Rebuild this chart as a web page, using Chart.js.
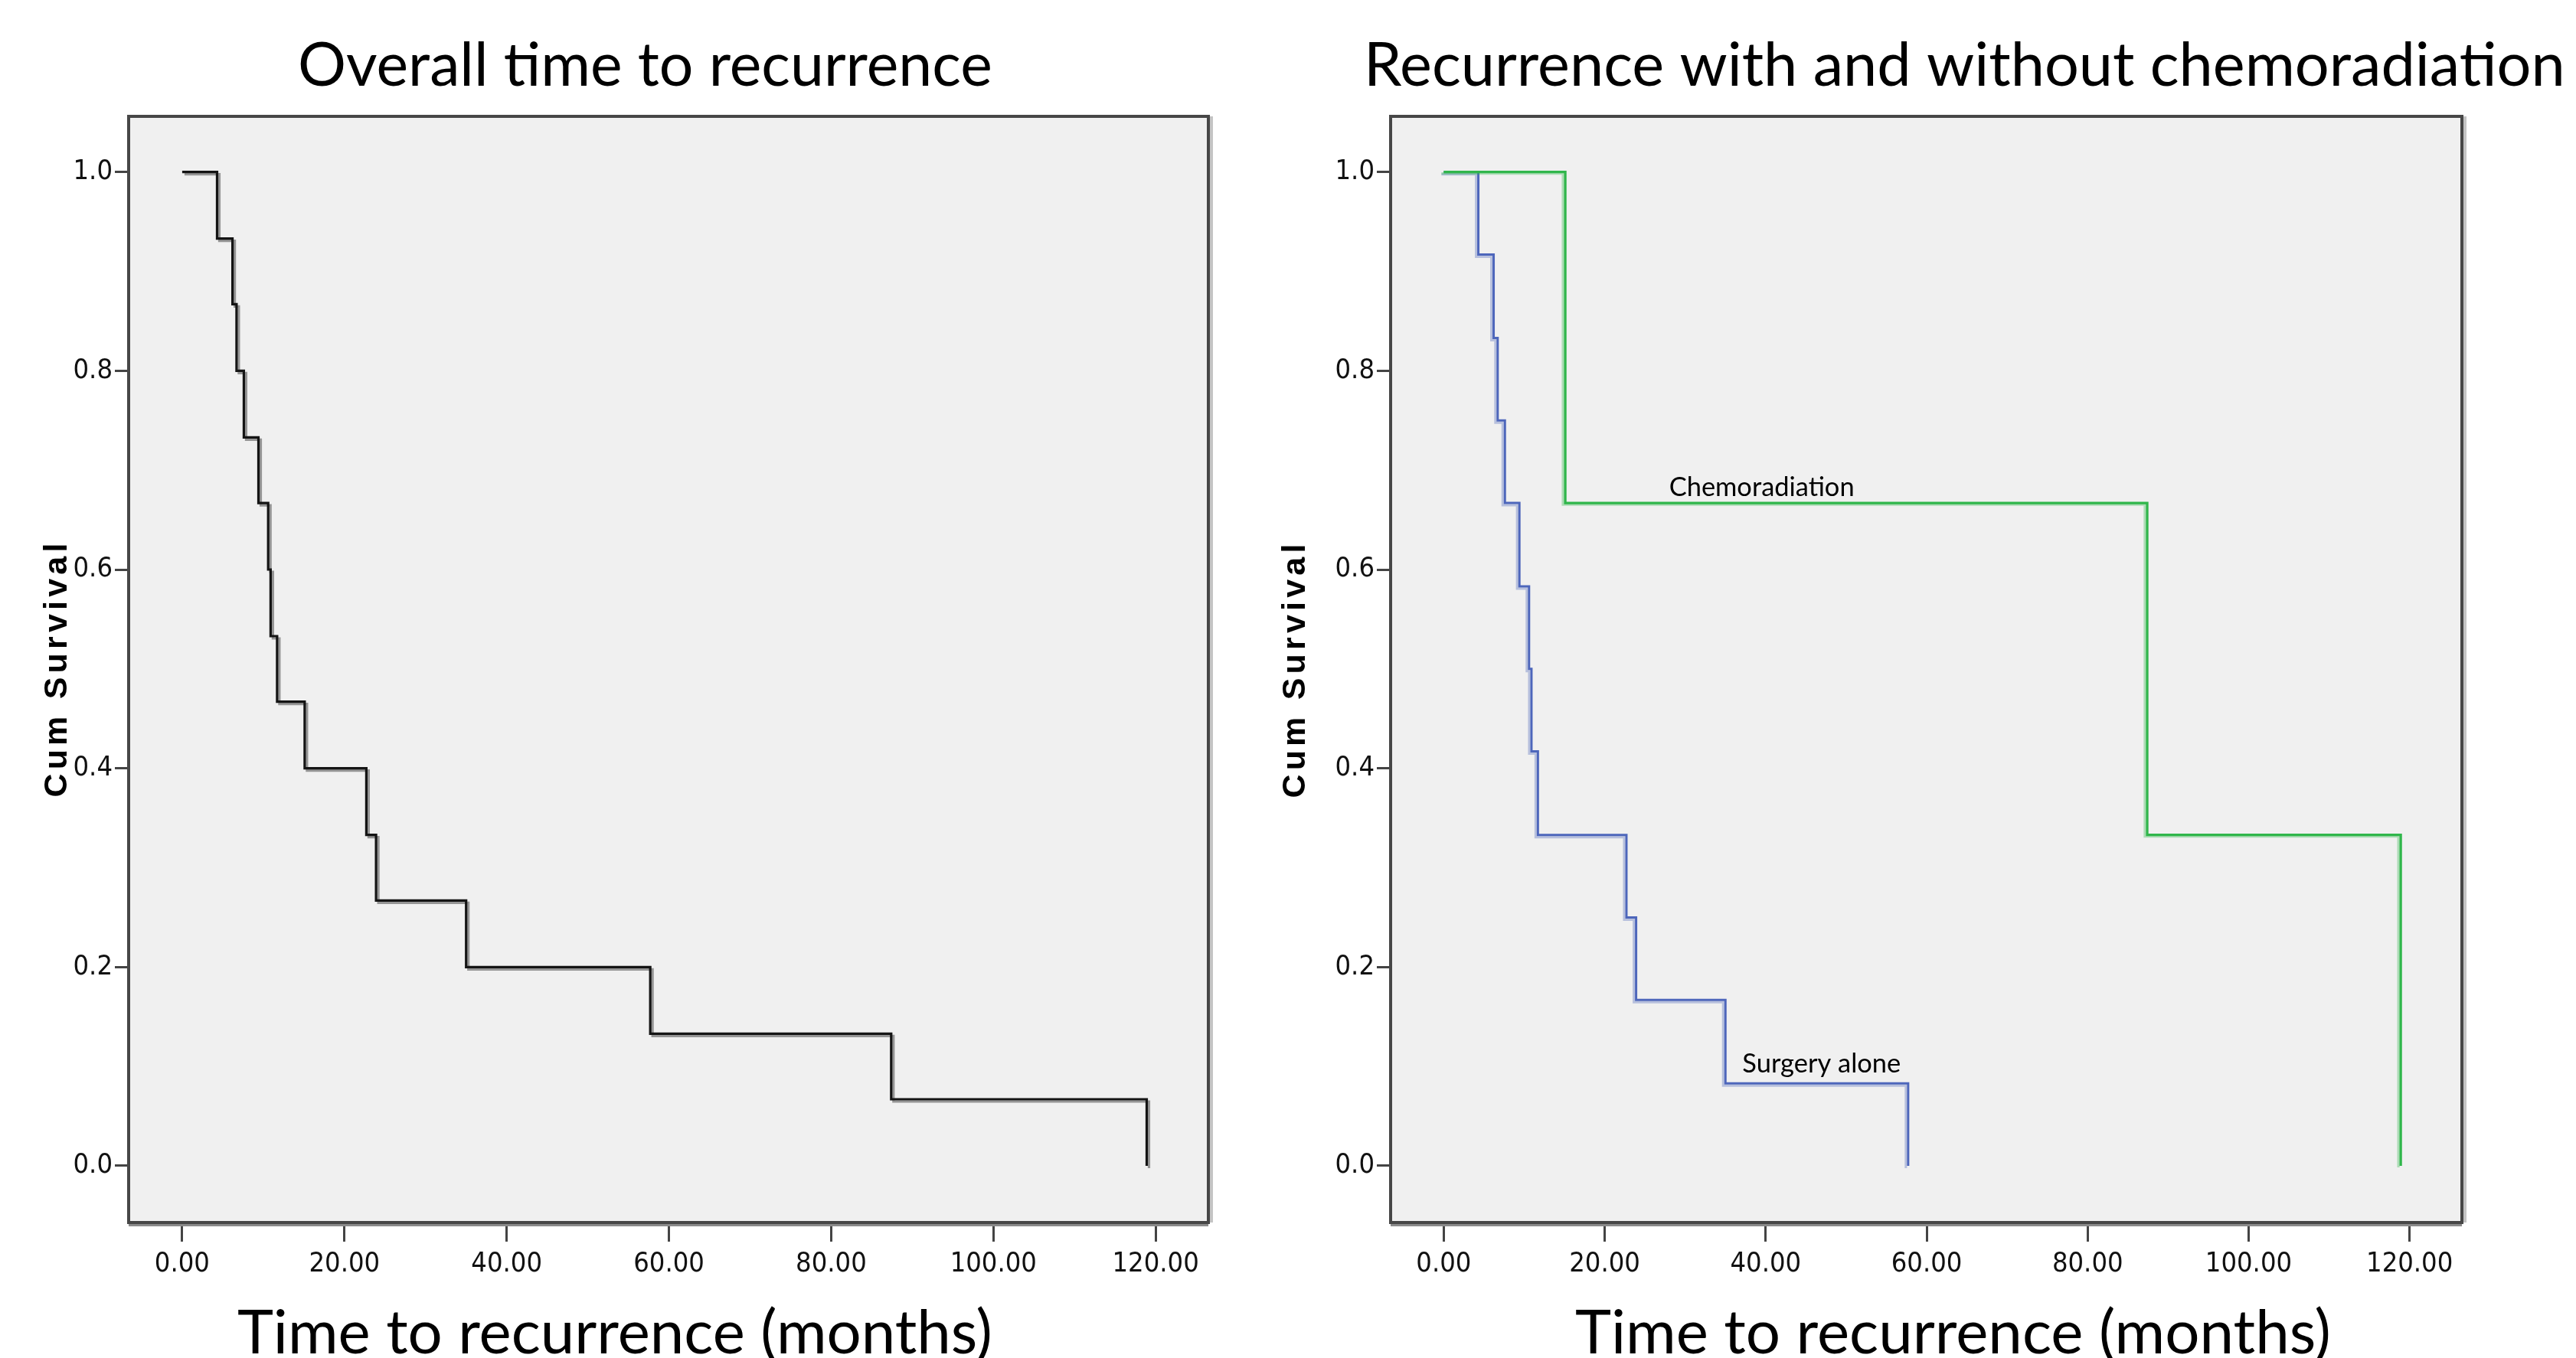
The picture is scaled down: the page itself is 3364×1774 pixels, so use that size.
<!DOCTYPE html>
<html>
<head>
<meta charset="utf-8">
<script src="https://cdn.jsdelivr.net/npm/chart.js@4.4.0/dist/chart.umd.min.js"></script>
<style>
  html, body { margin: 0; padding: 0; background: #fff; overflow: hidden; }
  canvas { position: absolute; top: 0; }
  #overallChart { left: 0; }
  #groupChart { left: 1640px; }
</style>
</head>
<body>
<canvas id="overallChart" width="1640" height="1774"></canvas>
<canvas id="groupChart" width="1724" height="1774"></canvas>
<script>
// Kaplan-Meier steps: time in months, cumulative survival
const overallTimes = [0, 4.3, 6.2, 6.7, 7.6, 9.4, 10.6, 10.9, 11.7, 15.1, 22.7, 23.9, 35.0, 57.7, 87.4, 118.9];
const overallSurv  = [1.0, 0.933, 0.867, 0.800, 0.733, 0.667, 0.600, 0.533, 0.467, 0.400, 0.333, 0.267, 0.200, 0.133, 0.067, 0.0];

const surgeryTimes = [0, 4.3, 6.2, 6.7, 7.6, 9.4, 10.6, 10.9, 11.7, 22.7, 23.9, 35.0, 57.7];
const surgerySurv  = [1.0, 0.917, 0.833, 0.750, 0.667, 0.583, 0.500, 0.417, 0.333, 0.250, 0.167, 0.083, 0.0];

const chemoTimes = [0, 15.1, 87.4, 118.9];
const chemoSurv  = [1.0, 0.667, 0.333, 0.0];

const xTicks = [0, 20, 40, 60, 80, 100, 120];
const yTicks = [0, 0.2, 0.4, 0.6, 0.8, 1.0];

const toPoints = (ts, ss) => ts.map((t, i) => ({ x: t, y: ss[i] }));

const tickFont = { family: "'Liberation Sans Narrow', 'DejaVu Sans Condensed', sans-serif", size: 36 };
const calibri = "Lato, 'Open Sans', sans-serif";

// plot panel background + SPSS style frame
const framePlugin = {
  id: 'spssFrame',
  beforeDraw(chart) {
    const { ctx, chartArea: a } = chart;
    ctx.save();
    ctx.fillStyle = '#fff';
    ctx.fillRect(0, 0, chart.width, chart.height);
    ctx.fillStyle = '#f0f0f0';
    ctx.fillRect(a.left, a.top, a.right - a.left, a.bottom - a.top);
    ctx.restore();
  },
  afterDatasetsDraw(chart) {
    const { ctx, chartArea: a } = chart;
    ctx.save();
    ctx.fillStyle = '#8a8a8a';
    ctx.fillRect(a.left, a.bottom + 2, a.right - a.left, 3);
    ctx.fillStyle = '#c4c4c4';
    ctx.fillRect(a.right + 2, a.top, 4, a.bottom - a.top);
    ctx.strokeStyle = '#474747';
    ctx.lineWidth = 4;
    ctx.strokeRect(a.left, a.top, a.right - a.left, a.bottom - a.top);
    ctx.restore();
  }
};

// soft offset copy of each step line, like the SPSS export
const shadowPlugin = {
  id: 'stepShadow',
  beforeDatasetDraw(chart, args) {
    const ds = chart.data.datasets[args.index];
    const ctx = chart.ctx;
    ctx.save();
    if (ds.shadow) {
      ctx.shadowColor = ds.shadow.color;
      ctx.shadowOffsetX = ds.shadow.dx;
      ctx.shadowOffsetY = ds.shadow.dy;
      ctx.shadowBlur = 0;
    }
  },
  afterDatasetDraw(chart) {
    chart.ctx.restore();
  }
};

function fitSize(ctx, text, family, weight, width) {
  ctx.font = weight + ' 100px ' + family;
  return 100 * width / ctx.measureText(text).width;
}

function makeTextPlugin(cfg) {
  return {
    id: 'figureText',
    afterDraw(chart) {
      const ctx = chart.ctx;
      ctx.save();
      ctx.fillStyle = '#000';
      ctx.textAlign = 'left';
      ctx.textBaseline = 'alphabetic';
      cfg.texts.forEach(t => {
        const size = fitSize(ctx, t.text, calibri, 'normal', t.width);
        ctx.font = 'normal ' + size + 'px ' + calibri;
        ctx.fillText(t.text, t.left, t.baseline);
      });

      // rotated y axis title
      const yt = cfg.yTitle;
      ctx.save();
      ctx.font = 'bold ' + yt.size + "px 'Liberation Sans', Arial, sans-serif";
      const w0 = ctx.measureText(yt.text).width;
      ctx.letterSpacing = ((yt.length - w0) / (yt.text.length - 1)).toFixed(2) + 'px';
      ctx.translate(yt.cx, yt.cy);
      ctx.rotate(-Math.PI / 2);
      ctx.textAlign = 'center';
      ctx.fillText(yt.text, 0, yt.size * 0.36);
      ctx.restore();

      // curve labels placed at data coordinates
      const xs = chart.scales.x, ys = chart.scales.y;
      cfg.curveLabels.forEach(l => {
        const size = fitSize(ctx, l.text, calibri, 'normal', l.width);
        ctx.font = 'normal ' + size + 'px ' + calibri;
        ctx.fillText(l.text, xs.getPixelForValue(l.x), ys.getPixelForValue(l.y) + l.dy);
      });
      ctx.restore();
    }
  };
}

function scales(yWidth) {
  return {
    x: {
      type: 'linear',
      min: -6.6,
      max: 126.5,
      afterBuildTicks: s => { s.ticks = xTicks.map(v => ({ value: v })); },
      afterFit: s => { s.height = 177; },
      grid: { drawOnChartArea: false, drawTicks: true, tickLength: 25, tickWidth: 3, tickColor: '#444' },
      border: { display: false },
      ticks: { padding: 8, color: '#111', font: tickFont, maxRotation: 0, autoSkip: false,
               callback: v => v.toFixed(2) }
    },
    y: {
      type: 'linear',
      min: -0.057,
      max: 1.056,
      afterBuildTicks: s => { s.ticks = yTicks.map(v => ({ value: v })); },
      afterFit: s => { s.width = yWidth; },
      grid: { drawOnChartArea: false, drawTicks: true, tickLength: 18, tickWidth: 3, tickColor: '#444' },
      border: { display: false },
      ticks: { padding: 3, color: '#111', font: tickFont, autoSkip: false,
               callback: v => v.toFixed(1) }
    }
  };
}

function baseOptions(yWidth, padRight) {
  return {
    responsive: false,
    animation: false,
    devicePixelRatio: 1,
    layout: { padding: { top: 152, right: padRight, bottom: 0, left: 0 } },
    plugins: { legend: { display: false }, title: { display: false }, tooltip: { enabled: false } },
    elements: { point: { radius: 0 }, line: { tension: 0, borderCapStyle: 'butt', borderJoinStyle: 'miter' } },
    scales: scales(yWidth)
  };
}

new Chart(document.getElementById('overallChart'), {
  type: 'line',
  data: {
    datasets: [{
      label: 'Overall',
      data: toPoints(overallTimes, overallSurv),
      stepped: true,
      borderColor: '#141414',
      borderWidth: 3.2,
      shadow: { color: 'rgba(0,0,0,0.38)', dx: 3, dy: 3 }
    }]
  },
  options: baseOptions(168, 62),
  plugins: [framePlugin, shadowPlugin, makeTextPlugin({
    texts: [
      { text: 'Overall time to recurrence', left: 389, width: 907, baseline: 112 },
      { text: 'Time to recurrence (months)', left: 310, width: 986, baseline: 1768 }
    ],
    yTitle: { text: 'Cum Survival', cx: 72, cy: 873, size: 43, length: 332 },
    curveLabels: []
  })]
});

new Chart(document.getElementById('groupChart'), {
  type: 'line',
  data: {
    datasets: [{
      label: 'Chemoradiation',
      data: toPoints(chemoTimes, chemoSurv),
      stepped: true,
      borderColor: '#30b64b',
      borderWidth: 3.3,
      shadow: { color: 'rgba(48,182,75,0.35)', dx: -3, dy: 2 }
    }, {
      label: 'Surgery alone',
      data: toPoints(surgeryTimes, surgerySurv),
      stepped: true,
      borderColor: '#4d66bb',
      borderWidth: 3,
      shadow: { color: 'rgba(77,102,187,0.35)', dx: -3, dy: 3 }
    }]
  },
  options: baseOptions(176, 149),
  plugins: [framePlugin, shadowPlugin, makeTextPlugin({
    texts: [
      { text: 'Recurrence with and without chemoradiation', left: 141, width: 1569, baseline: 112 },
      { text: 'Time to recurrence (months)', left: 417, width: 987, baseline: 1768 }
    ],
    yTitle: { text: 'Cum Survival', cx: 49, cy: 874, size: 43, length: 332 },
    curveLabels: [
      { text: 'Chemoradiation', x: 28.0, y: 0.667, dy: -9, width: 242 },
      { text: 'Surgery alone', x: 37.1, y: 0.083, dy: -14, width: 207 }
    ]
  })]
});
</script>
</body>
</html>
